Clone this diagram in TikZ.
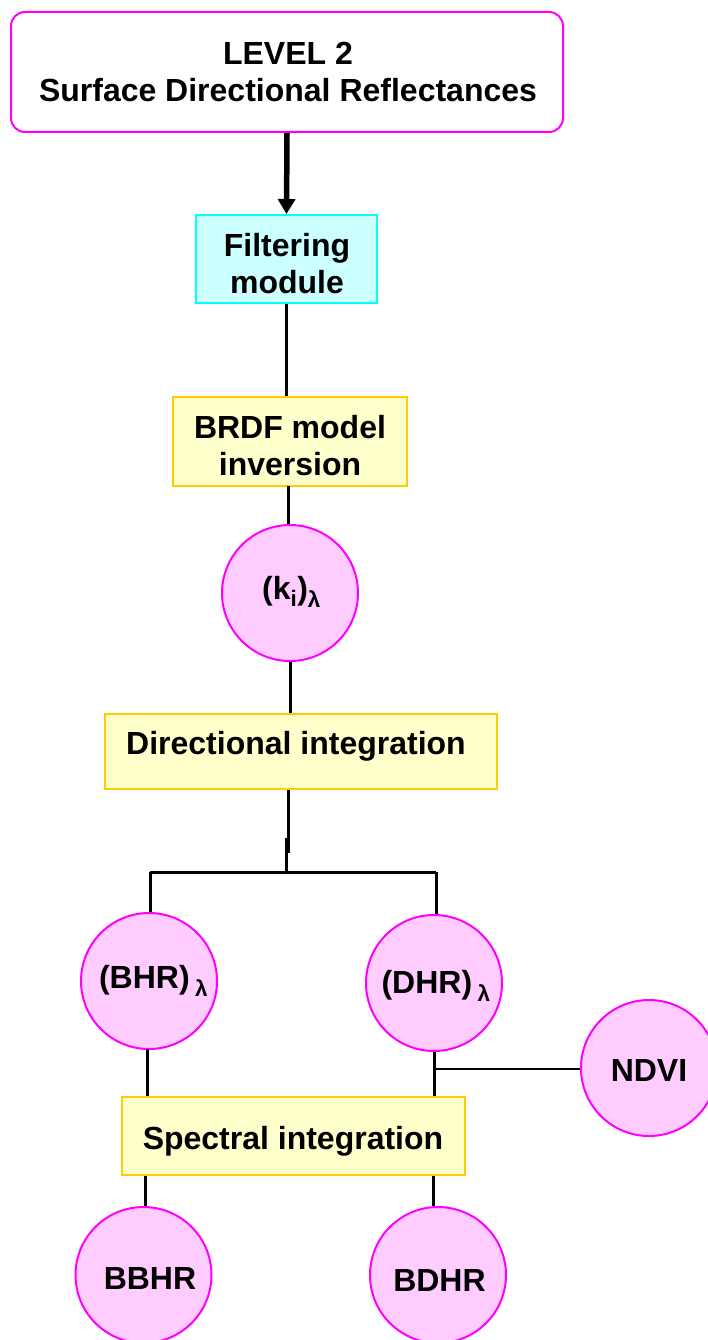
\documentclass[tikz,border=0pt]{standalone}
\usepackage{fontspec}
\setmainfont{Liberation Sans}
\usetikzlibrary{arrows.meta}
\definecolor{mag}{HTML}{FF00FF}
\definecolor{pinkfill}{HTML}{FFCCFF}
\definecolor{cyanfill}{HTML}{CCFFFF}
\definecolor{cyanline}{HTML}{00FFFF}
\definecolor{yelfill}{HTML}{FFFFCC}
\definecolor{yelline}{HTML}{FFCC00}
\begin{document}
\begin{tikzpicture}[x=1pt,y=-1pt,
  every node/.style={inner sep=0pt},
  txt/.style={font=\fontsize{32}{37}\selectfont\bfseries, anchor=base},
  topbox/.style={draw=mag, line width=2pt, rounded corners=14pt, fill=white, minimum width=552pt, minimum height=120pt},
  cyanbox/.style={draw=cyanline, fill=cyanfill, line width=2pt},
  yelbox/.style={draw=yelline, fill=yelfill, line width=2pt},
  pinkcirc/.style={circle, draw=mag, fill=pinkfill, line width=2pt, minimum size=136pt},
  conn/.style={line width=3pt},
  thinconn/.style={line width=1.5pt}]
\useasboundingbox (0,0) rectangle (708,1340);

% shapes
\node[topbox] (top) at (287,72) {};
\node[cyanbox, minimum width=181pt, minimum height=88pt] (filt) at (286.5,259) {};
\node[yelbox, minimum width=234pt, minimum height=89pt] (brdf) at (290,441.5) {};
\node[pinkcirc] (ki) at (290,593) {};
\node[yelbox, minimum width=392pt, minimum height=75pt] (dirint) at (301,751.5) {};
\node[pinkcirc] (bhr) at (149,981) {};
\node[pinkcirc] (dhr) at (434,983) {};
\node[pinkcirc] (ndvi) at (649,1068) {};
\node[yelbox, minimum width=343pt, minimum height=78pt] (spec) at (293.5,1136) {};
\node[pinkcirc] (bbhr) at (143.5,1275) {};
\node[pinkcirc] (bdhr) at (438,1275) {};

% texts
\node[txt] (topA) at (288,65) {LEVEL 2};
\node[txt] (topB) at (288,102) {Surface Directional Reflectances};
\node[txt] (filtA) at (287,257) {Filtering};
\node[txt] (filtB) at (287,293) {module};
\node[txt] (brdfA) at (290,438) {BRDF model};
\node[txt] (brdfB) at (290,475) {inversion};
\node[txt] (kiT) at (291.5,599) {(k\textsubscript{i})\textsubscript{λ}};
\node[txt] (dirT) at (296,754) {Directional integration};
\node[txt] (bhrT) at (153.5,988) {(BHR)\,\textsubscript{λ}};
\node[txt] (dhrT) at (436,993) {(DHR)\,\textsubscript{λ}};
\node[txt] (ndviT) at (649,1081) {NDVI};
\node[txt] (specT) at (293,1149) {Spectral integration};
\node[txt] (bbhrT) at (150,1289) {BBHR};
\node[txt] (bdhrT) at (439.5,1291) {BDHR};

% coordinates
\coordinate (j1) at (288,853);
\coordinate (j2) at (286.5,838);
\coordinate (jm) at (286.5,872);
\coordinate (jl) at (150,872);
\coordinate (jr) at (436,872);
\coordinate (nd) at (434,1069);

% connectors
\draw[line width=5.5pt, -{Triangle[length=15pt,width=17pt]}] (top.south) -- (filt.north);
\draw[conn] (filt.south) -- (brdf.north -| filt.south);
\draw[conn] (288,486) -- (ki.north -| 288,0);
\draw[conn] (ki.south) -- (ki.south |- dirint.north);
\draw[conn] (dirint.south -| j1) -- (j1);
\draw[conn] (j2) -- (jm);
\draw[conn] (jl) -- (jr);
\draw[conn] (jl) -- (bhr.north -| jl);
\draw[conn] (jr) -- (dhr.north -| jr);
\draw[conn] (147,1049) -- (spec.north -| 147,0);
\draw[conn] (dhr.south) -- (dhr.south |- spec.north);
\draw[thinconn] (nd) -- (nd -| ndvi.west);
\draw[conn] (spec.south -| 145,0) -- (bbhr.north -| 145,0);
\draw[conn] (spec.south -| 433,0) -- (bdhr.north -| 433,0);
\end{tikzpicture}
\end{document}
